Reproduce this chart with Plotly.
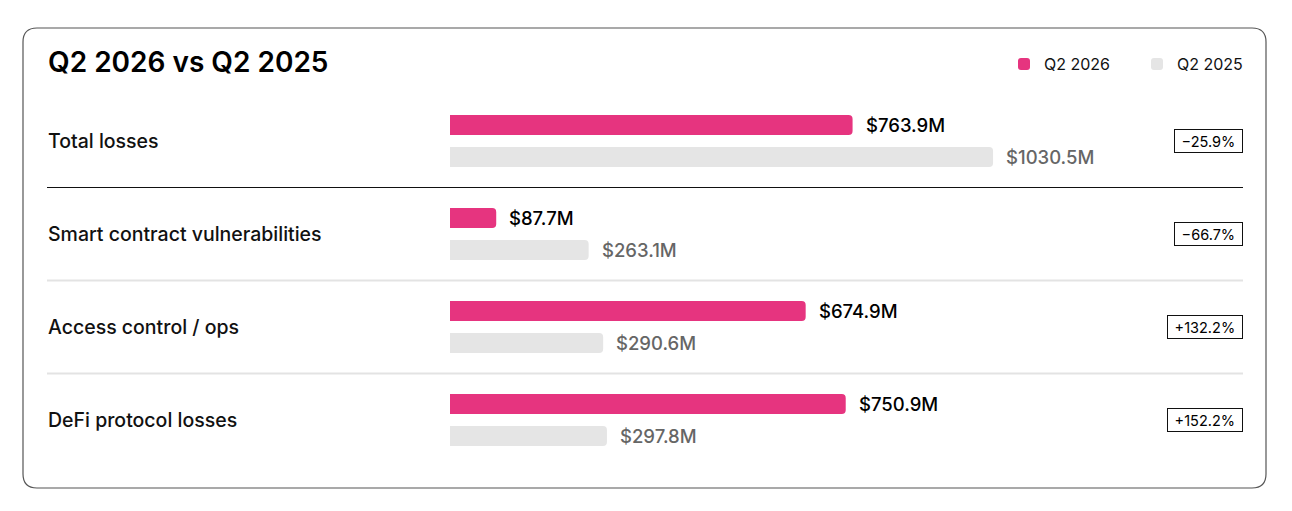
import plotly.graph_objects as go

# Data
categories = ["Total losses", "Smart contract vulnerabilities", "Access control / ops", "DeFi protocol losses"]
q2_2026 = [763.9, 87.7, 674.9, 750.9]
q2_2025 = [1030.5, 263.1, 290.6, 297.8]
changes = ["\u221225.9%", "\u221266.7%", "+132.2%", "+152.2%"]

PINK = "#E6347F"
GREY = "#E5E5E5"
FONT = "Inter"

W, H = 1292, 511
OFF = 8            # page body margin
PX_PER_M = 0.527   # bar scale in pixels per $M
BAR_X0 = 450 - OFF
ROW0_Y = 141 - OFF
ROW_H = 93


def px(p):
    return (p - OFF) / W


def py(p):
    return 1 - (p - OFF) / H


fig = go.Figure()
fig.add_trace(go.Bar(
    y=categories, x=q2_2026, orientation="h", name="Q2 2026",
    marker=dict(color=PINK, line=dict(width=0)),
    hovertemplate="%{y}<br>$%{x}M<extra>Q2 2026</extra>",
))
fig.add_trace(go.Bar(
    y=categories, x=q2_2025, orientation="h", name="Q2 2025",
    marker=dict(color=GREY, line=dict(width=0)),
    hovertemplate="%{y}<br>$%{x}M<extra>Q2 2025</extra>",
))

annotations = []
# title
annotations.append(dict(
    text="Q2 2026 vs Q2 2025", xref="paper", yref="paper",
    x=px(46), y=py(62), xanchor="left", yanchor="middle", showarrow=False,
    font=dict(family=FONT, size=28, color="#000", weight=600),
))
for i, cat in enumerate(categories):
    annotations.append(dict(
        text=cat, xref="paper", yref="y", x=px(46), y=cat,
        xanchor="left", yanchor="middle", showarrow=False,
        font=dict(family=FONT, size=19.5, color="#111", weight=500),
    ))
    annotations.append(dict(
        text=f"${q2_2026[i]:.1f}M", xref="x", yref="y", x=q2_2026[i], y=cat,
        xanchor="left", yanchor="middle", xshift=11, yshift=16, showarrow=False,
        font=dict(family=FONT, size=18.5, color="#000", weight=500),
    ))
    annotations.append(dict(
        text=f"${q2_2025[i]:.1f}M", xref="x", yref="y", x=q2_2025[i], y=cat,
        xanchor="left", yanchor="middle", xshift=11, yshift=-16, showarrow=False,
        font=dict(family=FONT, size=18.5, color="#666", weight=500),
    ))
    annotations.append(dict(
        text="\u00a0" + changes[i] + "\u00a0", xref="paper", yref="y", x=px(1243), y=cat,
        xanchor="right", yanchor="middle", showarrow=False,
        bordercolor="#111", borderwidth=1, borderpad=2.5, bgcolor="white",
        font=dict(family=FONT, size=14.5, color="#000"),
    ))

shapes = []
# card outline with rounded corners
x0, x1 = px(23), px(1266)
y1, y0 = py(28), py(488)
rx, ry = 14 / W, 14 / H
card = (f"M{x0 + rx},{y1} L{x1 - rx},{y1} Q{x1},{y1} {x1},{y1 - ry} "
        f"L{x1},{y0 + ry} Q{x1},{y0} {x1 - rx},{y0} "
        f"L{x0 + rx},{y0} Q{x0},{y0} {x0},{y0 + ry} "
        f"L{x0},{y1 - ry} Q{x0},{y1} {x0 + rx},{y1} Z")
shapes.append(dict(type="path", path=card, xref="paper", yref="paper",
                   line=dict(color="#555", width=1.2), layer="below"))
# row separators
for k in range(len(categories) - 1):
    shapes.append(dict(
        type="line", xref="paper", yref="y", x0=px(47), x1=px(1243), y0=k + 0.5, y1=k + 0.5,
        line=dict(color="#111" if k == 0 else "#E3E3E3", width=1 if k == 0 else 2),
    ))

x_lo = -BAR_X0 / PX_PER_M
x_hi = (W - BAR_X0) / PX_PER_M
y_top = -ROW0_Y / ROW_H
y_bot = (H - ROW0_Y) / ROW_H

fig.update_layout(
    width=W, height=H,
    margin=dict(l=0, r=0, t=0, b=0),
    paper_bgcolor="white", plot_bgcolor="rgba(0,0,0,0)",
    barmode="group", bargap=0.312, bargroupgap=0.375, barcornerradius=4,
    xaxis=dict(range=[x_lo, x_hi], visible=False, fixedrange=True),
    yaxis=dict(type="category", range=[y_bot, y_top], visible=False, fixedrange=True),
    showlegend=True,
    legend=dict(
        orientation="h", x=px(1004), xanchor="left", y=py(64), yanchor="middle",
        bgcolor="rgba(0,0,0,0)", font=dict(family=FONT, size=16, color="#111"),
        traceorder="normal", entrywidth=88, entrywidthmode="pixels",
    ),
    annotations=annotations,
    shapes=shapes,
    font=dict(family=FONT),
)

fig.write_html("out.html")
